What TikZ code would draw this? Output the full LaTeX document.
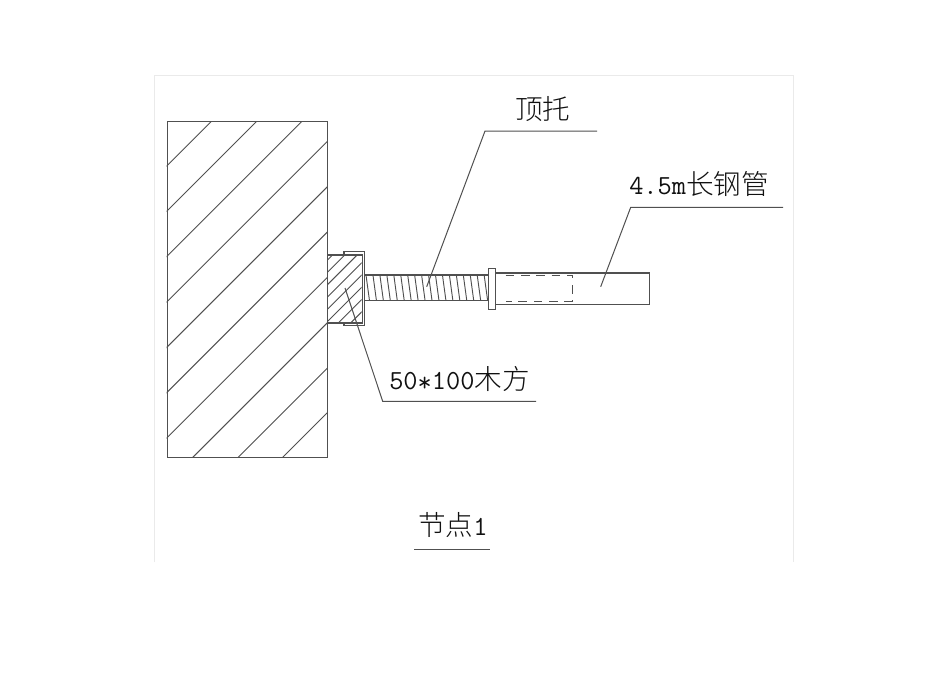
\documentclass[tikz,border=0pt]{standalone}
\usepackage{fontspec}
\newfontfamily\cjk{Noto Sans CJK SC Light}
\newcommand{\zh}[1]{{\cjk #1}}
\tikzset{
  px/.style={x=0.75pt,y=-0.75pt},
  part/.style={draw=linecol,line width=1pt},
  thin part/.style={draw=linecol,line width=0.7pt},
  leader/.style={draw=linecol,line width=0.75pt},
  label/.style={inner sep=0pt,anchor=base west,text=textcol,font=\fontsize{20.7pt}{23pt}\selectfont\ttfamily}
}
\definecolor{linecol}{HTML}{505050}
\definecolor{textcol}{HTML}{111111}
\definecolor{framecol}{HTML}{EAEAEA}
\begin{document}
\begin{tikzpicture}[px]
\useasboundingbox[fill=white] (0,0) rectangle (950,672);
% sheet frame
\draw[framecol,line width=0.6pt] (154,562) -- (154,75) -- (793,75) -- (793,562);
% wall
\begin{scope}
\clip (166.5,121) rectangle (327,457);
\foreach \s in {332.7,378,423.3,468.8,514.1,559.4,604.7,650.1,695.4,740}
  \draw[thin part] (\s-121-400,521) -- (\s-121+100,21);
\end{scope}
\node[part,minimum width=120.375pt,minimum height=252pt,inner sep=0pt,anchor=north west] (wall) at (166.5,121) {};
% timber
\begin{scope}
\clip (327,254.3) rectangle (361.7,322.3);
\foreach \s in {587.5,599.8,...,686}
  \draw[thin part] (\s-254-100,354) -- (\s-254+20,234);
\end{scope}
\node[part,minimum width=26pt,minimum height=51pt,inner sep=0pt,anchor=north west] (timber) at (327,254.3) {};
% U plate
\draw[part] (344,254.3) -- (344,251.3) -- (364.7,251.3) -- (364.7,325.7) -- (344,325.7) -- (344,322.3);
% threaded rod
\foreach \k in {0,...,17}
  \draw[thin part] (366+\k*6.95,275) -- (369.5+\k*6.95,300.7);
\draw[part] (364.7,275) -- (488,275) (364.7,300.7) -- (488,300.7);
% nut
\node[part,minimum width=5.25pt,minimum height=30.75pt,inner sep=0pt,anchor=north west] (nut) at (488,267.7) {};
% steel pipe
\node[part,minimum width=115.5pt,minimum height=23.8pt,inner sep=0pt,anchor=north west] (pipe) at (495,272.3) {};
% inner rod, dashed
\draw[thin part,dash pattern=on 6.5pt off 5pt] (505.7,275) -- (572.3,275) -- (572.3,301) -- (505.7,301);
% leaders
\coordinate (a0) at (426.7,286.7); \coordinate (a1) at (485,131); \coordinate (a2) at (597,131);
\draw[leader] (a0) -- (a1) -- (a2);
\coordinate (b0) at (600.7,286.7); \coordinate (b1) at (630.7,207.3); \coordinate (b2) at (783,207.3);
\draw[leader] (b0) -- (b1) -- (b2);
\coordinate (c0) at (345,288); \coordinate (c1) at (382.7,401.3); \coordinate (c2) at (536,401.3);
\draw[leader] (c0) -- (c1) -- (c2);
% labels
\node[label] (top) at (515,119) {\zh{顶托}};
\node[label] (tube) at (629,194) {4.5m\zh{长钢管}};
\node[label] (wood) at (389,389) {50\raisebox{-2pt}{*}100\zh{木方}};
\node[label] (title) at (418,535) {\zh{节点}1};
\coordinate (t0) at (414,549); \coordinate (t1) at (490,549);
\draw[leader] (t0) -- (t1);
\end{tikzpicture}
\end{document}
